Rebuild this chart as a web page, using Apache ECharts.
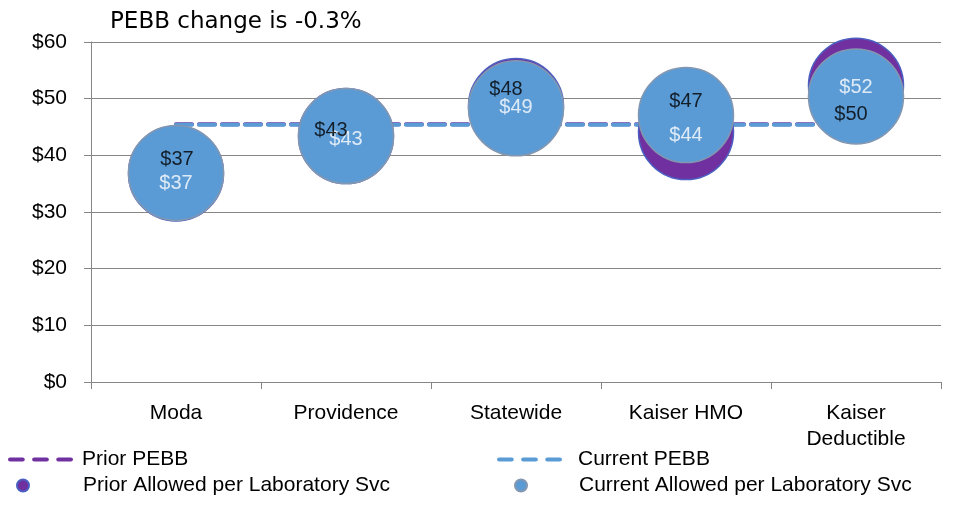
<!DOCTYPE html>
<html lang="en">
<head>
    <meta charset="UTF-8">
    <title>PEBB change - Allowed per Laboratory Svc</title>
    <style>
        html, body { margin: 0; padding: 0; background: #fff; }
        #main { width: 961px; height: 506px; }
    </style>
</head>
<body>
<div id="main"></div>
<script src="https://cdn.jsdelivr.net/npm/echarts@6/dist/echarts.min.js"></script>
<script>
    // chart data
    var categories = ['Moda', 'Providence', 'Statewide', 'Kaiser HMO', 'Kaiser\nDeductible'];
    var priorAllowed = [36.8, 43.4, 48.7, 44.1, 52.3];
    var currentAllowed = [36.9, 43.4, 48.3, 47.1, 50.4];
    var priorPebb = [45.5, 45.5, 45.5, 45.5, 45.5];
    var currentPebb = [45.4, 45.4, 45.4, 45.4, 45.4];
    var yTicks = [0, 10, 20, 30, 40, 50, 60];

    // label nudges (px), so the two value labels don't sit on top of each other
    var priorLabelOffset = [[0, 10], [0, 3], [0, 1], [0, 3], [0, 2]];
    var currentLabelOffset = [[1, -13], [-15, -6], [-10, -19], [0, -14], [-5, 18]];

    var PURPLE = '#7030A0';
    var BLUE = '#5B9BD5';
    var FONT = 'Liberation Sans';
    var FS = 21;

    // three dashes for the PEBB legend entries
    var DASH_ICON = 'path://M2,0h12a2,2 0 0 1 0,4h-12a2,2 0 0 1 0,-4z M25,0h12a2,2 0 0 1 0,4h-12a2,2 0 0 1 0,-4z M48,0h12a2,2 0 0 1 0,4h-12a2,2 0 0 1 0,-4z';

    var chart = echarts.init(document.getElementById('main'));

    function money(v) { return '$' + Math.round(v); }

    function labelSeries(values, offsets, color) {
        return {
            type: 'scatter',
            z: 6,
            silent: true,
            symbolSize: 1,
            itemStyle: { color: 'transparent' },
            data: values.map(function (v, i) {
                return {
                    value: v,
                    label: { offset: offsets[i] }
                };
            }),
            label: {
                show: true,
                position: 'inside',
                color: color,
                fontSize: 20,
                fontFamily: FONT,
                formatter: function (p) { return money(p.value); }
            }
        };
    }

    function legendText(padLeft) {
        return { color: '#000', fontSize: FS, fontFamily: FONT, padding: [0, 0, 0, padLeft] };
    }

    var option = {
        animation: false,
        title: {
            text: 'PEBB change is -0.3%',
            left: 105,
            top: 6,
            textStyle: { fontFamily: 'DejaVu Sans', fontWeight: 'normal', fontSize: 23, color: '#000' }
        },
        grid: { left: 91, right: 20, top: 42, bottom: 124 },
        legend: [
            { data: ['Prior PEBB'], left: 8, top: 449, padding: 0, icon: DASH_ICON, itemWidth: 65, itemHeight: 5, textStyle: legendText(4) },
            { data: ['Current PEBB'], left: 497, top: 449, padding: 0, icon: DASH_ICON, itemWidth: 65, itemHeight: 5, textStyle: legendText(11) },
            {
                data: ['Prior Allowed per Laboratory Svc'], left: 16, top: 475, padding: 0, icon: 'circle',
                itemWidth: 12, itemHeight: 12, textStyle: legendText(49)
            },
            {
                data: ['Current Allowed per Laboratory Svc'], left: 514, top: 475, padding: 0, icon: 'circle',
                itemWidth: 12, itemHeight: 12, textStyle: legendText(47)
            }
        ],
        xAxis: {
            type: 'category',
            data: categories,
            boundaryGap: true,
            axisLine: { lineStyle: { color: '#868686', width: 1 } },
            axisTick: { show: true, length: 7, lineStyle: { color: '#868686' } },
            axisLabel: { color: '#000', fontSize: FS, fontFamily: FONT, margin: 18, lineHeight: 26 }
        },
        yAxis: {
            type: 'value',
            min: yTicks[0],
            max: yTicks[yTicks.length - 1],
            interval: 10,
            axisLine: { show: true, lineStyle: { color: '#868686', width: 1 } },
            axisTick: { show: true, length: 7, lineStyle: { color: '#868686' } },
            splitLine: { lineStyle: { color: '#868686', width: 1 } },
            axisLabel: { color: '#000', fontSize: FS, fontFamily: FONT, margin: 24, formatter: money }
        },
        series: [
            {
                name: 'Prior PEBB',
                type: 'line',
                z: 2,
                symbol: 'none',
                data: priorPebb,
                itemStyle: { color: PURPLE },
                lineStyle: { color: PURPLE, width: 4, type: [16, 7], cap: 'round' }
            },
            {
                name: 'Current PEBB',
                type: 'line',
                z: 2,
                symbol: 'none',
                data: currentPebb,
                itemStyle: { color: BLUE },
                lineStyle: { color: BLUE, width: 4, type: [16, 7], cap: 'round' }
            },
            {
                name: 'Prior Allowed per Laboratory Svc',
                type: 'scatter',
                z: 3,
                symbolSize: 95,
                data: priorAllowed,
                itemStyle: { color: PURPLE, opacity: 1, borderColor: '#4a5fc1', borderWidth: 1.5 }
            },
            {
                name: 'Current Allowed per Laboratory Svc',
                type: 'scatter',
                z: 4,
                symbolSize: 95,
                data: currentAllowed,
                itemStyle: { color: BLUE, opacity: 1, borderColor: '#8497B0', borderWidth: 1.5 }
            },
            labelSeries(priorAllowed, priorLabelOffset, '#fff'),
            labelSeries(currentAllowed, currentLabelOffset, '#000')
        ]
    };

    chart.setOption(option);
</script>
</body>
</html>
